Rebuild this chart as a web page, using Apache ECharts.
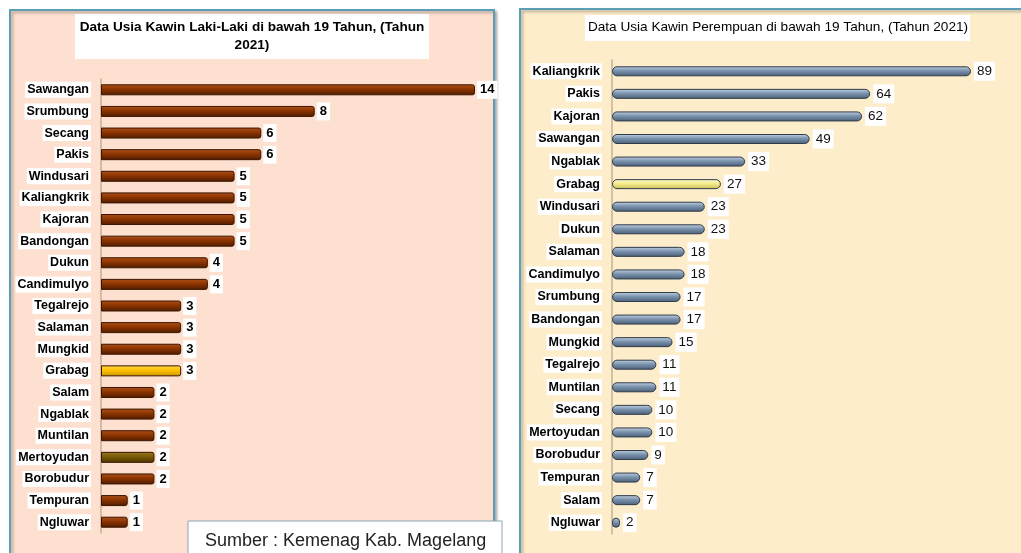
<!DOCTYPE html>
<html>
<head>
<meta charset="utf-8">
<style>
  html, body { margin: 0; padding: 0; background: #fff; }
  #main { width: 1021px; height: 553px; }
</style>
<script src="https://cdn.jsdelivr.net/npm/echarts@6/dist/echarts.min.js"></script>
</head>
<body>
<div id="main"></div>
<script>
// laki-laki (kiri)
var lakiNama = ['Sawangan', 'Srumbung', 'Secang', 'Pakis', 'Windusari', 'Kaliangkrik', 'Kajoran',
  'Bandongan', 'Dukun', 'Candimulyo', 'Tegalrejo', 'Salaman', 'Mungkid', 'Grabag', 'Salam',
  'Ngablak', 'Muntilan', 'Mertoyudan', 'Borobudur', 'Tempuran', 'Ngluwar'];
var lakiJumlah = [14, 8, 6, 6, 5, 5, 5, 5, 4, 4, 3, 3, 3, 3, 2, 2, 2, 2, 2, 1, 1];

// perempuan (kanan)
var prNama = ['Kaliangkrik', 'Pakis', 'Kajoran', 'Sawangan', 'Ngablak', 'Grabag', 'Windusari',
  'Dukun', 'Salaman', 'Candimulyo', 'Srumbung', 'Bandongan', 'Mungkid', 'Tegalrejo', 'Muntilan',
  'Secang', 'Mertoyudan', 'Borobudur', 'Tempuran', 'Salam', 'Ngluwar'];
var prJumlah = [89, 64, 62, 49, 33, 27, 23, 23, 18, 18, 17, 17, 15, 11, 11, 10, 10, 9, 7, 7, 2];

function grad(a, b, c) {
  return new echarts.graphic.LinearGradient(0, 0, 0, 1, [
    { offset: 0, color: a }, { offset: 0.45, color: b }, { offset: 1, color: c }
  ]);
}

var warnaLaki = grad('#b0521a', '#8c3400', '#4f1c00');
var warnaGrabag = grad('#ffd84a', '#ffc000', '#c99400');
var warnaMerto = grad('#9a7a1c', '#7a5a08', '#4a3600');
var warnaPr = grad('#c4d3e3', '#7b93ae', '#4a5e76');
var warnaPrGrabag = grad('#fffbd0', '#f6ec8e', '#c8bb55');

var dataLaki = lakiJumlah.map(function (v, i) {
  var it = { value: v };
  if (lakiNama[i] === 'Grabag') it.itemStyle = { color: warnaGrabag };
  if (lakiNama[i] === 'Mertoyudan') it.itemStyle = { color: warnaMerto };
  return it;
});
var dataPr = prJumlah.map(function (v, i) {
  var it = { value: v };
  if (prNama[i] === 'Grabag') it.itemStyle = { color: warnaPrGrabag };
  return it;
});

var font = 'Liberation Sans, Arial, sans-serif';
var catLabel = {
  color: '#000', fontWeight: 'bold', fontSize: 12.5, fontFamily: font,
  backgroundColor: '#fff', padding: [2, 2, 1, 2], margin: 10
};

var myChart = echarts.init(document.getElementById('main'));
var option = {
  animation: false,
  graphic: [
    { type: 'rect', z: -10, shape: { x: 10, y: 10, width: 484, height: 560 },
      style: { fill: '#fde0cf', stroke: '#5a9fb5', lineWidth: 2, shadowColor: 'rgba(0,0,0,0.3)', shadowBlur: 3, shadowOffsetX: 2, shadowOffsetY: 2 } },
    { type: 'rect', z: -10, shape: { x: 520, y: 9, width: 520, height: 560 },
      style: { fill: '#fdedcb', stroke: '#5a9fb5', lineWidth: 2, shadowColor: 'rgba(0,0,0,0.3)', shadowBlur: 3, shadowOffsetX: 2, shadowOffsetY: 2 } },
    { type: 'rect', z: -5, shape: { x: 75, y: 14, width: 354, height: 45 }, style: { fill: '#fff' } },
    { type: 'text', z: 5, x: 252, y: 18,
      style: { text: 'Data Usia Kawin Laki-Laki di bawah 19 Tahun, (Tahun\n2021)', align: 'center',
        font: 'bold 13.6px ' + font, fill: '#000', lineHeight: 18 } },
    { type: 'rect', z: -5, shape: { x: 585, y: 15, width: 385, height: 26 }, style: { fill: '#fff' } },
    { type: 'text', z: 5, x: 778, y: 20,
      style: { text: 'Data Usia Kawin Perempuan di bawah 19 Tahun, (Tahun 2021)', align: 'center',
        font: '13.6px ' + font, fill: '#000' } },
    { type: 'rect', z: 10, shape: { x: 188, y: 521, width: 314, height: 40 },
      style: { fill: '#fff', stroke: '#8aa6b8', lineWidth: 1 } },
    { type: 'text', z: 11, x: 205, y: 532,
      style: { text: 'Sumber : Kemenag Kab. Magelang', font: '18px ' + font, fill: '#222' } }
  ],
  grid: [
    { left: 101, top: 79, width: 374, height: 454 },
    { left: 612, top: 60, width: 359, height: 474 }
  ],
  xAxis: [
    { gridIndex: 0, type: 'value', min: 0, max: 14, show: false },
    { gridIndex: 1, type: 'value', min: 0, max: 89, show: false }
  ],
  yAxis: [
    { gridIndex: 0, type: 'category', data: lakiNama, inverse: true,
      axisLine: { lineStyle: { color: '#c4b293', width: 1.5 } }, axisTick: { show: false },
      axisLabel: catLabel, splitLine: { show: false } },
    { gridIndex: 1, type: 'category', data: prNama, inverse: true,
      axisLine: { lineStyle: { color: '#c4b293', width: 1.5 } }, axisTick: { show: false },
      axisLabel: catLabel, splitLine: { show: false } }
  ],
  series: [
    { type: 'bar', xAxisIndex: 0, yAxisIndex: 0, data: dataLaki, barWidth: 11,
      itemStyle: { color: warnaLaki, borderColor: '#3a1400', borderWidth: 1, borderRadius: [0, 2, 2, 0] },
      label: { show: true, position: 'right', distance: 2, color: '#000', fontWeight: 'bold', fontSize: 13,
        fontFamily: font, backgroundColor: '#fff', padding: [3, 3, 2, 3] } },
    { type: 'bar', xAxisIndex: 1, yAxisIndex: 1, data: dataPr, barWidth: 10,
      itemStyle: { color: warnaPr, borderColor: '#2e3b4a', borderWidth: 1, borderRadius: 5 },
      label: { show: true, position: 'right', distance: 3, color: '#111', fontSize: 13.5,
        fontFamily: font, backgroundColor: '#fff', padding: [3, 3, 2, 3] } }
  ]
};
myChart.setOption(option);
</script>
</body>
</html>
